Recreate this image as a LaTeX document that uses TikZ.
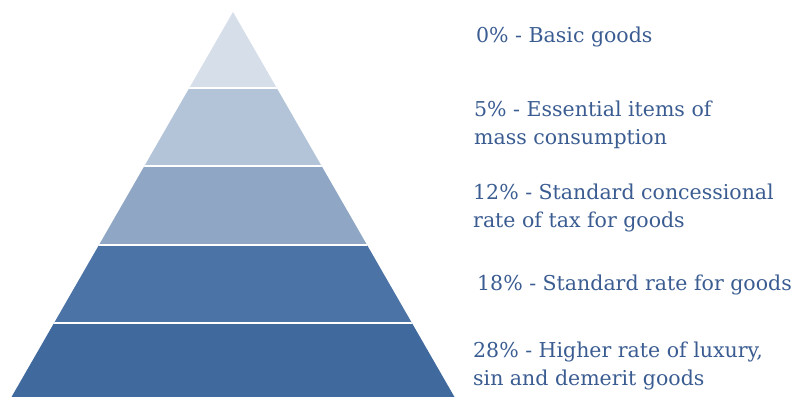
\documentclass[tikz,border=0pt]{standalone}
\usepackage{fontspec}
\setmainfont{DejaVu Serif}
\usepackage{tikz}

\definecolor{tierA}{RGB}{214,222,234}
\definecolor{tierB}{RGB}{179,196,217}
\definecolor{tierC}{RGB}{143,167,196}
\definecolor{tierD}{RGB}{75,115,166}
\definecolor{tierE}{RGB}{64,106,158}
\definecolor{rateblue}{RGB}{58,92,145}

\tikzset{
  rate/.style={anchor=base west, inner sep=0pt, align=left, text=rateblue,
    font=\fontsize{20.5}{28}\selectfont},
  gap/.style={white, line width=2.5pt}
}

\begin{document}
\begin{tikzpicture}[x=1pt, y=1pt]

    \useasboundingbox (0,0) rectangle (798,397);

    % pyramid, cut into five tiers
    \begin{scope}
        \clip (233,385) -- (454.5,0) -- (11.5,0) -- cycle;
        \fill [tierE] (0,0) rectangle (470,74);
        \fill [tierD] (0,74) rectangle (470,152);
        \fill [tierC] (0,152) rectangle (470,231);
        \fill [tierB] (0,231) rectangle (470,309);
        \fill [tierA] (0,309) rectangle (470,390);
        \draw [gap] (0,74) -- (470,74);
        \draw [gap] (0,152) -- (470,152);
        \draw [gap] (0,231) -- (470,231);
        \draw [gap] (0,309) -- (470,309);
    \end{scope}

    % rates (base of a two-line node sits on its last line)
    \node [rate] (zero) at (476,354) {0\% - Basic goods};
    \node [rate] (five) at (474,252) {5\% - Essential items of\\mass consumption};
    \node [rate] (twelve) at (473,170) {12\% - Standard concessional\\rate of tax for goods};
    \node [rate] (eighteen) at (477,107) {18\% - Standard rate for goods};
    \node [rate] (twentyeight) at (473,12) {28\% - Higher rate of luxury,\\sin and demerit goods};

\end{tikzpicture}
\end{document}
